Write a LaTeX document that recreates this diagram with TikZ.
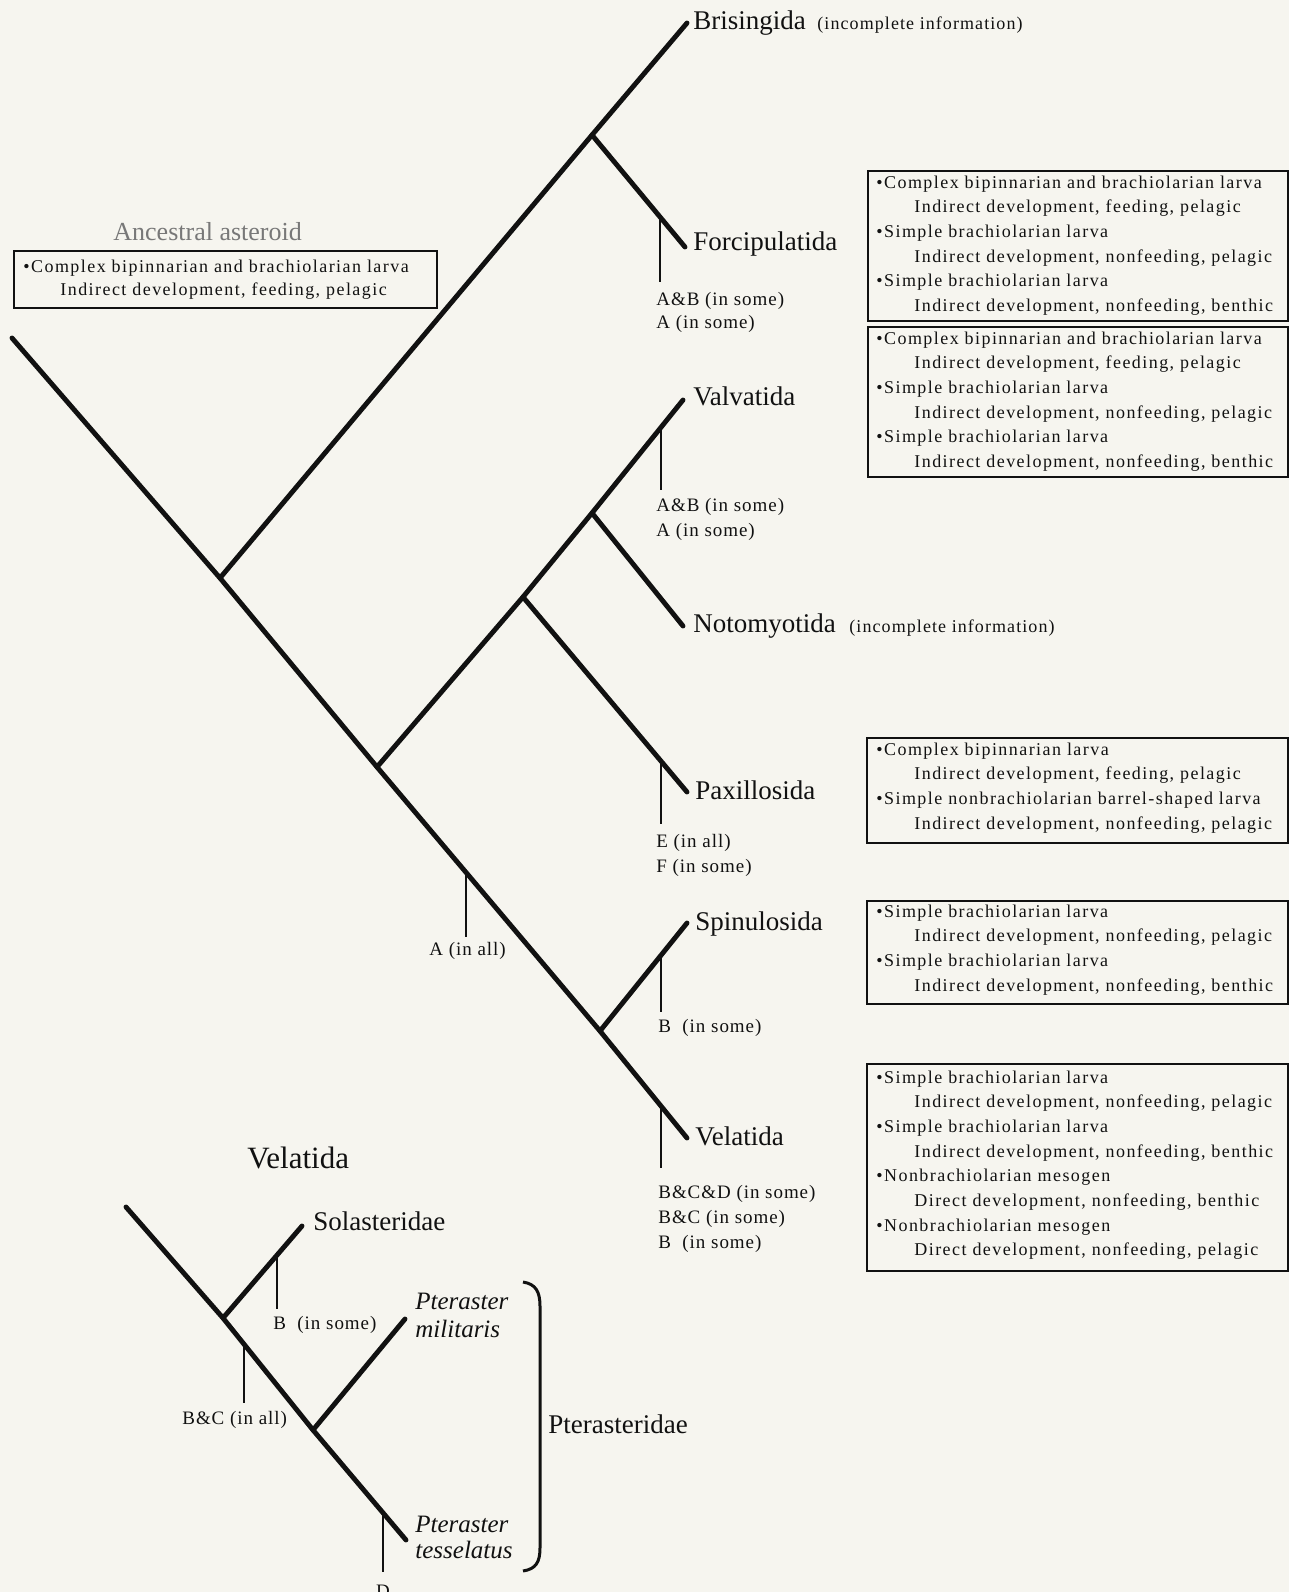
\documentclass[tikz,border=0pt]{standalone}
\usepackage{fontspec}
\setmainfont{Liberation Serif}
\newfontfamily\boxfont[LetterSpace=8]{Liberation Serif}
\newfontfamily\incfont[LetterSpace=6]{Liberation Serif}
\newfontfamily\lblfont[LetterSpace=5]{Liberation Serif}
\usetikzlibrary{calc}
\definecolor{bg}{RGB}{246,245,239}
\definecolor{ink}{RGB}{17,17,17}
\definecolor{greytxt}{RGB}{120,120,120}
\newcommand\mybul{•}
\newcommand\myind{\hspace*{19pt}}
\newcommand\infolines[4]{\foreach \t [count=\i from 0] in {#4} {\node[note] (#1-\i) at (#2,{#3+24.7*\i}) {\t};}}
\begin{document}
\begin{tikzpicture}[x=0.5pt,y=-0.5pt,
  branch/.style={line width=2.45pt, line cap=round, line join=round, draw=ink},
  tickline/.style={line width=1pt, draw=ink},
  txt/.style={anchor=base west, inner sep=0pt, text=ink},
  big/.style={txt, font=\fontsize{13.5}{16}\selectfont},
  lab/.style={txt, font=\lblfont\fontsize{9.5}{11}\selectfont},
  note/.style={txt, font=\boxfont\fontsize{9}{10}\selectfont},
  infobox/.style={draw=ink, line width=1.2pt, anchor=north west, inner sep=0pt}
]
\fill[bg] (0,0) rectangle (1289,1592);
\useasboundingbox (0,0) rectangle (1289,1592);

% ---------- main tree ----------
\coordinate (root) at (12,338);
\coordinate (nB) at (220,578);
\coordinate (nV) at (377,767);
\coordinate (nS) at (600,1031);
\coordinate (tipVel) at (687,1138);
\coordinate (nF) at (592,135);
\coordinate (tipBri) at (687,23);
\coordinate (tipFor) at (685,247);
\coordinate (nP) at (523,597);
\coordinate (nN) at (592,513);
\coordinate (tipVal) at (683,400);
\coordinate (tipNot) at (683,626);
\coordinate (tipPax) at (687,792);
\coordinate (tipSpi) at (687,923);

\draw[branch] (root) -- (nB) -- (nV) -- (nS) -- (tipVel);
\draw[branch] (nB) -- (nF) -- (tipBri);
\draw[branch] (nF) -- (tipFor);
\draw[branch] (nV) -- (nP) -- (nN) -- (tipVal);
\draw[branch] (nN) -- (tipNot);
\draw[branch] (nP) -- (tipPax);
\draw[branch] (nS) -- (tipSpi);

% ticks
\coordinate (tF) at ($(nF)!0.731!(tipFor)$);
\coordinate (tFe) at (tF |- 0,282);
\coordinate (tV) at ($(nN)!0.758!(tipVal)$);
\coordinate (tVe) at (tV |- 0,490);
\coordinate (tP) at ($(nP)!0.841!(tipPax)$);
\coordinate (tPe) at (tP |- 0,824);
\coordinate (tS) at ($(nS)!0.701!(tipSpi)$);
\coordinate (tSe) at (tS |- 0,1012);
\coordinate (tVl) at ($(nS)!0.701!(tipVel)$);
\coordinate (tVle) at (tVl |- 0,1168);
\coordinate (tA) at ($(nV)!0.399!(nS)$);
\coordinate (tAe) at (tA |- 0,937);
\foreach \a/\b in {tF/tFe, tV/tVe, tP/tPe, tS/tSe, tVl/tVle, tA/tAe}
  \draw[tickline] (\a) -- (\b);

% taxon labels
\node[big] (lBri) at (693,29) {Brisingida};
\node[txt, font=\incfont\fontsize{9}{10}\selectfont] (lBriI) at (817,29) {(incomplete information)};
\node[big] (lFor) at (693,250) {Forcipulatida};
\node[big] (lVal) at (693,405) {Valvatida};
\node[big] (lNot) at (693,632) {Notomyotida};
\node[txt, font=\incfont\fontsize{9}{10}\selectfont] (lNotI) at (849,632) {(incomplete information)};
\node[big] (lPax) at (695,799) {Paxillosida};
\node[big] (lSpi) at (695,930) {Spinulosida};
\node[big] (lVel) at (695,1145) {Velatida};

% character labels
\node[lab] (cF1) at (656,305) {A\&B (in some)};
\node[lab] (cF2) at (656,328) {A (in some)};
\node[lab] (cV1) at (656,511) {A\&B (in some)};
\node[lab] (cV2) at (656,536) {A (in some)};
\node[lab] (cP1) at (656,847) {E (in all)};
\node[lab] (cP2) at (656,872) {F (in some)};
\node[lab] (cA) at (429,955) {A (in all)};
\node[lab] (cS1) at (658,1032) {B\ \ (in some)};
\node[lab] (cVl1) at (658,1198) {B\&C\&D (in some)};
\node[lab] (cVl2) at (658,1223) {B\&C (in some)};
\node[lab] (cVl3) at (658,1248) {B\ \ (in some)};

% ancestral
\node[txt, text=greytxt, font=\fontsize{13}{15}\selectfont] (anct) at (113,240) {Ancestral asteroid};
\node[infobox, minimum width=211.5pt, minimum height=28.5pt] (ancbox) at (13,250) {};
\node[note] (anc1) at (23,272) {\mybul Complex bipinnarian and brachiolarian larva};
\node[note] (anc2) at (60,295) {Indirect development, feeding, pelagic};

% info boxes
\node[infobox, minimum width=210pt, minimum height=75pt] (box1) at (867,170) {};
\infolines{b1}{876}{188}{{\mybul Complex bipinnarian and brachiolarian larva},{\myind Indirect development, feeding, pelagic},{\mybul Simple brachiolarian larva},{\myind Indirect development, nonfeeding, pelagic},{\mybul Simple brachiolarian larva},{\myind Indirect development, nonfeeding, benthic}}
\node[infobox, minimum width=210pt, minimum height=75pt] (box2) at (867,326) {};
\infolines{b2}{876}{344}{{\mybul Complex bipinnarian and brachiolarian larva},{\myind Indirect development, feeding, pelagic},{\mybul Simple brachiolarian larva},{\myind Indirect development, nonfeeding, pelagic},{\mybul Simple brachiolarian larva},{\myind Indirect development, nonfeeding, benthic}}
\node[infobox, minimum width=210.5pt, minimum height=52.5pt] (box3) at (866,737) {};
\infolines{b3}{876}{755}{{\mybul Complex bipinnarian larva},{\myind Indirect development, feeding, pelagic},{\mybul Simple nonbrachiolarian barrel-shaped larva},{\myind Indirect development, nonfeeding, pelagic}}
\node[infobox, minimum width=210.5pt, minimum height=51.5pt] (box4) at (866,900) {};
\infolines{b4}{876}{917}{{\mybul Simple brachiolarian larva},{\myind Indirect development, nonfeeding, pelagic},{\mybul Simple brachiolarian larva},{\myind Indirect development, nonfeeding, benthic}}
\node[infobox, minimum width=210.5pt, minimum height=103.5pt] (box5) at (866,1063) {};
\infolines{b5}{876}{1083}{{\mybul Simple brachiolarian larva},{\myind Indirect development, nonfeeding, pelagic},{\mybul Simple brachiolarian larva},{\myind Indirect development, nonfeeding, benthic},{\mybul Nonbrachiolarian mesogen},{\myind Direct development, nonfeeding, benthic},{\mybul Nonbrachiolarian mesogen},{\myind Direct development, nonfeeding, pelagic}}

% ---------- inset: Velatida ----------
\node[txt, font=\fontsize{15.5}{18}\selectfont] (ititle) at (247,1168) {Velatida};
\coordinate (iroot) at (126,1207);
\coordinate (iS) at (223,1318);
\coordinate (iM) at (313,1430);
\coordinate (itipT) at (406,1540);
\coordinate (itipS) at (302,1226);
\coordinate (itipM) at (405,1319);
\draw[branch] (iroot) -- (iS) -- (iM) -- (itipT);
\draw[branch] (iS) -- (itipS);
\draw[branch] (iM) -- (itipM);

\coordinate (itB) at ($(iS)!0.684!(itipS)$);
\coordinate (itBe) at (itB |- 0,1309);
\coordinate (itBC) at ($(iS)!0.233!(iM)$);
\coordinate (itBCe) at (itBC |- 0,1403);
\coordinate (itD) at ($(iM)!0.753!(itipT)$);
\coordinate (itDe) at (itD |- 0,1572);
\foreach \a/\b in {itB/itBe, itBC/itBCe, itD/itDe}
  \draw[tickline] (\a) -- (\b);

\node[big] (iSol) at (313,1230) {Solasteridae};
\node[big, font=\fontsize{12.5}{14}\selectfont\itshape] (iPm1) at (415,1309) {Pteraster};
\node[big, font=\fontsize{12.5}{14}\selectfont\itshape] (iPm2) at (415,1337) {militaris};
\node[big, font=\fontsize{12.5}{14}\selectfont\itshape] (iPt1) at (415,1532) {Pteraster};
\node[big, font=\fontsize{12.5}{14}\selectfont\itshape] (iPt2) at (415,1558) {tesselatus};
\node[big] (iPter) at (548,1433) {Pterasteridae};
\node[lab] (icB) at (273,1329) {B\ \ (in some)};
\node[lab] (icBC) at (182,1424) {B\&C (in all)};
\node[lab, anchor=base] (icD) at (383,1597) {D};

% bracket
\coordinate (brT) at (523,1282);
\coordinate (brB) at (523,1571);
\draw[line width=1.5pt, draw=ink] (brT) .. controls (536,1284) and (540,1292) .. (540,1306) -- (540,1548) .. controls (540,1562) and (536,1569) .. (brB);
\end{tikzpicture}
\end{document}
